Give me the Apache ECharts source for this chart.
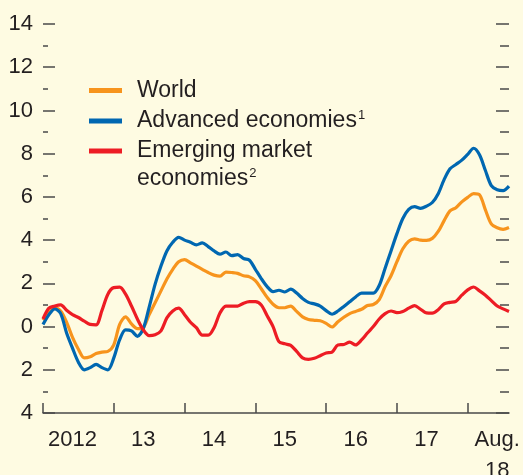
<!DOCTYPE html>
<html>
<head>
<meta charset="utf-8">
<script src="https://cdn.jsdelivr.net/npm/echarts@6/dist/echarts.min.js"></script>
<style>
html, body { margin: 0; padding: 0; background: #fefbe2; }
#chart { width: 523px; height: 475px; }
</style>
</head>
<body>
<div id="chart"></div>
<script>
// monthly data, Jan 2012 .. Aug 2018
const years = [2012, 2013, 2014, 2015, 2016, 2017, 2018];
const lastMonth = 8;
const yearLabels = ['2012', '13', '14', '15', '16', '17'];
const endLabel = 'Aug.\n18';

const world = [
    0.3, 0.65, 0.85, 0.72, 0.2, -0.5, -1.05, -1.45, -1.4, -1.25, -1.18, -1.15,
    -0.85, 0.1, 0.45, 0.12, -0.1, -0.05, 0.55, 1.1, 1.65, 2.2, 2.65, 3.0,
    3.1, 2.95, 2.8, 2.65, 2.5, 2.38, 2.33, 2.52, 2.5, 2.46, 2.35, 2.3,
    2.12, 1.75, 1.35, 1.03, 0.87, 0.87, 0.95, 0.7, 0.45, 0.33, 0.29, 0.27,
    0.15, -0.02, 0.22, 0.43, 0.6, 0.7, 0.8, 0.97, 1.02, 1.25, 1.85, 2.35,
    3.0, 3.6, 3.95, 4.06, 4.0, 3.99, 4.08, 4.4, 4.9, 5.35, 5.5, 5.77,
    5.98, 6.15, 6.1, 5.4, 4.75, 4.57, 4.5, 4.58
];
const advanced = [
    0.1, 0.55, 0.82, 0.6, -0.3, -1.0, -1.65, -2.0, -1.9, -1.75, -1.9, -2.0,
    -1.45, -0.6, -0.15, -0.2, -0.45, -0.1, 0.9, 1.95, 2.8, 3.5, 3.9, 4.13,
    4.0, 3.9, 3.78, 3.87, 3.7, 3.5, 3.35, 3.45, 3.28, 3.33, 3.15, 3.07,
    2.65, 2.22, 1.85, 1.62, 1.68, 1.6, 1.73, 1.55, 1.3, 1.12, 1.05, 0.95,
    0.74, 0.57, 0.72, 0.93, 1.15, 1.37, 1.55, 1.55, 1.55, 1.9, 2.7, 3.5,
    4.3, 5.0, 5.42, 5.55, 5.47, 5.57, 5.74, 6.15, 6.8, 7.3, 7.5, 7.7,
    7.97, 8.25, 7.95, 7.22, 6.52, 6.33, 6.29, 6.5
];
const emerging = [
    0.35, 0.85, 0.95, 1.0, 0.75, 0.55, 0.42, 0.25, 0.1, 0.08, 0.75, 1.5,
    1.8, 1.82, 1.5, 0.95, 0.35, -0.15, -0.42, -0.38, -0.2, 0.4, 0.72, 0.85,
    0.55, 0.2, -0.05, -0.4, -0.4, -0.05, 0.63, 0.95, 0.95, 0.95, 1.08, 1.15,
    1.15, 1.0, 0.5, 0.0, -0.7, -0.8, -0.87, -1.15, -1.45, -1.52, -1.47, -1.35,
    -1.22, -1.18, -0.85, -0.83, -0.72, -0.85, -0.62, -0.3, 0.0, 0.35, 0.6, 0.72,
    0.64, 0.7, 0.85, 0.97, 0.8, 0.63, 0.62, 0.78, 1.05, 1.12, 1.17, 1.45,
    1.7, 1.83, 1.65, 1.45, 1.2, 0.95, 0.82, 0.7
];

let months = [];
for (let y of years) {
    for (let m = 1; m <= 12; m++) {
        if (y === 2018 && m > lastMonth) break;
        months.push(y + '-' + m);
    }
}
const endIndex = months.length - 3;

const font = "'Liberation Sans', Arial, sans-serif";
const textColor = '#231f20';
const tickColor = '#4a4a4a';

function lineSeries(name, data, color) {
    return {
        name: name,
        type: 'line',
        data: data,
        smooth: 0.3,
        symbol: 'none',
        lineStyle: { color: color, width: 3.2 },
        itemStyle: { color: color }
    };
}

let chart = echarts.init(document.getElementById('chart'));
chart.setOption({
    backgroundColor: '#fefbe2',
    animation: false,
    textStyle: { fontFamily: font },
    grid: { left: 43, right: 14, top: 24, bottom: 62, containLabel: false, outerBoundsMode: 'none' },
    legend: {
        orient: 'vertical',
        left: 89,
        top: 79,
        padding: 0,
        itemWidth: 33,
        itemHeight: 5,
        itemGap: 7,
        icon: 'rect',
        data: ['World', 'Advanced economies', 'Emerging market'],
        formatter: function (name) {
            if (name === 'Advanced economies') return '{t|' + name + '}{s|1}';
            return '{t|' + name + '}';
        },
        textStyle: {
            rich: {
                t: { fontSize: 23, lineHeight: 24, color: textColor, fontFamily: font, padding: [0, 0, 0, 10] },
                s: { fontSize: 13, lineHeight: 14, color: textColor, fontFamily: font, verticalAlign: 'top', padding: [0, 0, 0, 1] }
            }
        }
    },
    graphic: [{
        type: 'text',
        left: 137,
        top: 167,
        style: {
            text: '{t|economies}{s|2}',
            rich: {
                t: { fontSize: 23, lineHeight: 24, fill: textColor, fontFamily: font },
                s: { fontSize: 13, lineHeight: 14, fill: textColor, fontFamily: font, verticalAlign: 'top', padding: [0, 0, 0, 1] }
            }
        }
    }],
    xAxis: {
        type: 'category',
        boundaryGap: false,
        data: months,
        axisLine: { onZero: false, lineStyle: { color: tickColor, width: 1.5 } },
        axisTick: {
            inside: true,
            length: 10,
            interval: function (i) { return i % 12 === 0; },
            lineStyle: { color: tickColor, width: 1.5 }
        },
        axisLabel: {
            interval: function (i) { return i % 12 === 5 || i === endIndex; },
            formatter: function (v, i) {
                if (i === endIndex) return endLabel;
                return yearLabels[Math.floor(i / 12)];
            },
            fontSize: 22,
            lineHeight: 31,
            color: textColor,
            margin: 11
        },
        splitLine: { show: false }
    },
    yAxis: [{
        type: 'value',
        min: -4,
        max: 14,
        interval: 2,
        axisLine: { show: false },
        axisTick: { show: true, inside: true, length: 12, lineStyle: { color: tickColor, width: 1.5 } },
        minorTick: { show: true, splitNumber: 2, length: 5, lineStyle: { color: tickColor, width: 1.5 } },
        axisLabel: {
            formatter: function (v) { return Math.abs(v); },
            fontSize: 22,
            color: textColor,
            margin: 10
        },
        splitLine: { show: false }
    }, {
        type: 'value',
        position: 'right',
        min: -4,
        max: 14,
        interval: 2,
        axisLine: { show: false },
        axisTick: { show: true, inside: true, length: 13, lineStyle: { color: tickColor, width: 1.5 } },
        minorTick: { show: true, splitNumber: 2, length: 9, lineStyle: { color: tickColor, width: 1.5 } },
        axisLabel: { show: false },
        splitLine: { show: false }
    }],
    series: [
        lineSeries('World', world, '#f7941d'),
        lineSeries('Advanced economies', advanced, '#0067b1'),
        lineSeries('Emerging market', emerging, '#ed1c24')
    ]
});
</script>
</body>
</html>
